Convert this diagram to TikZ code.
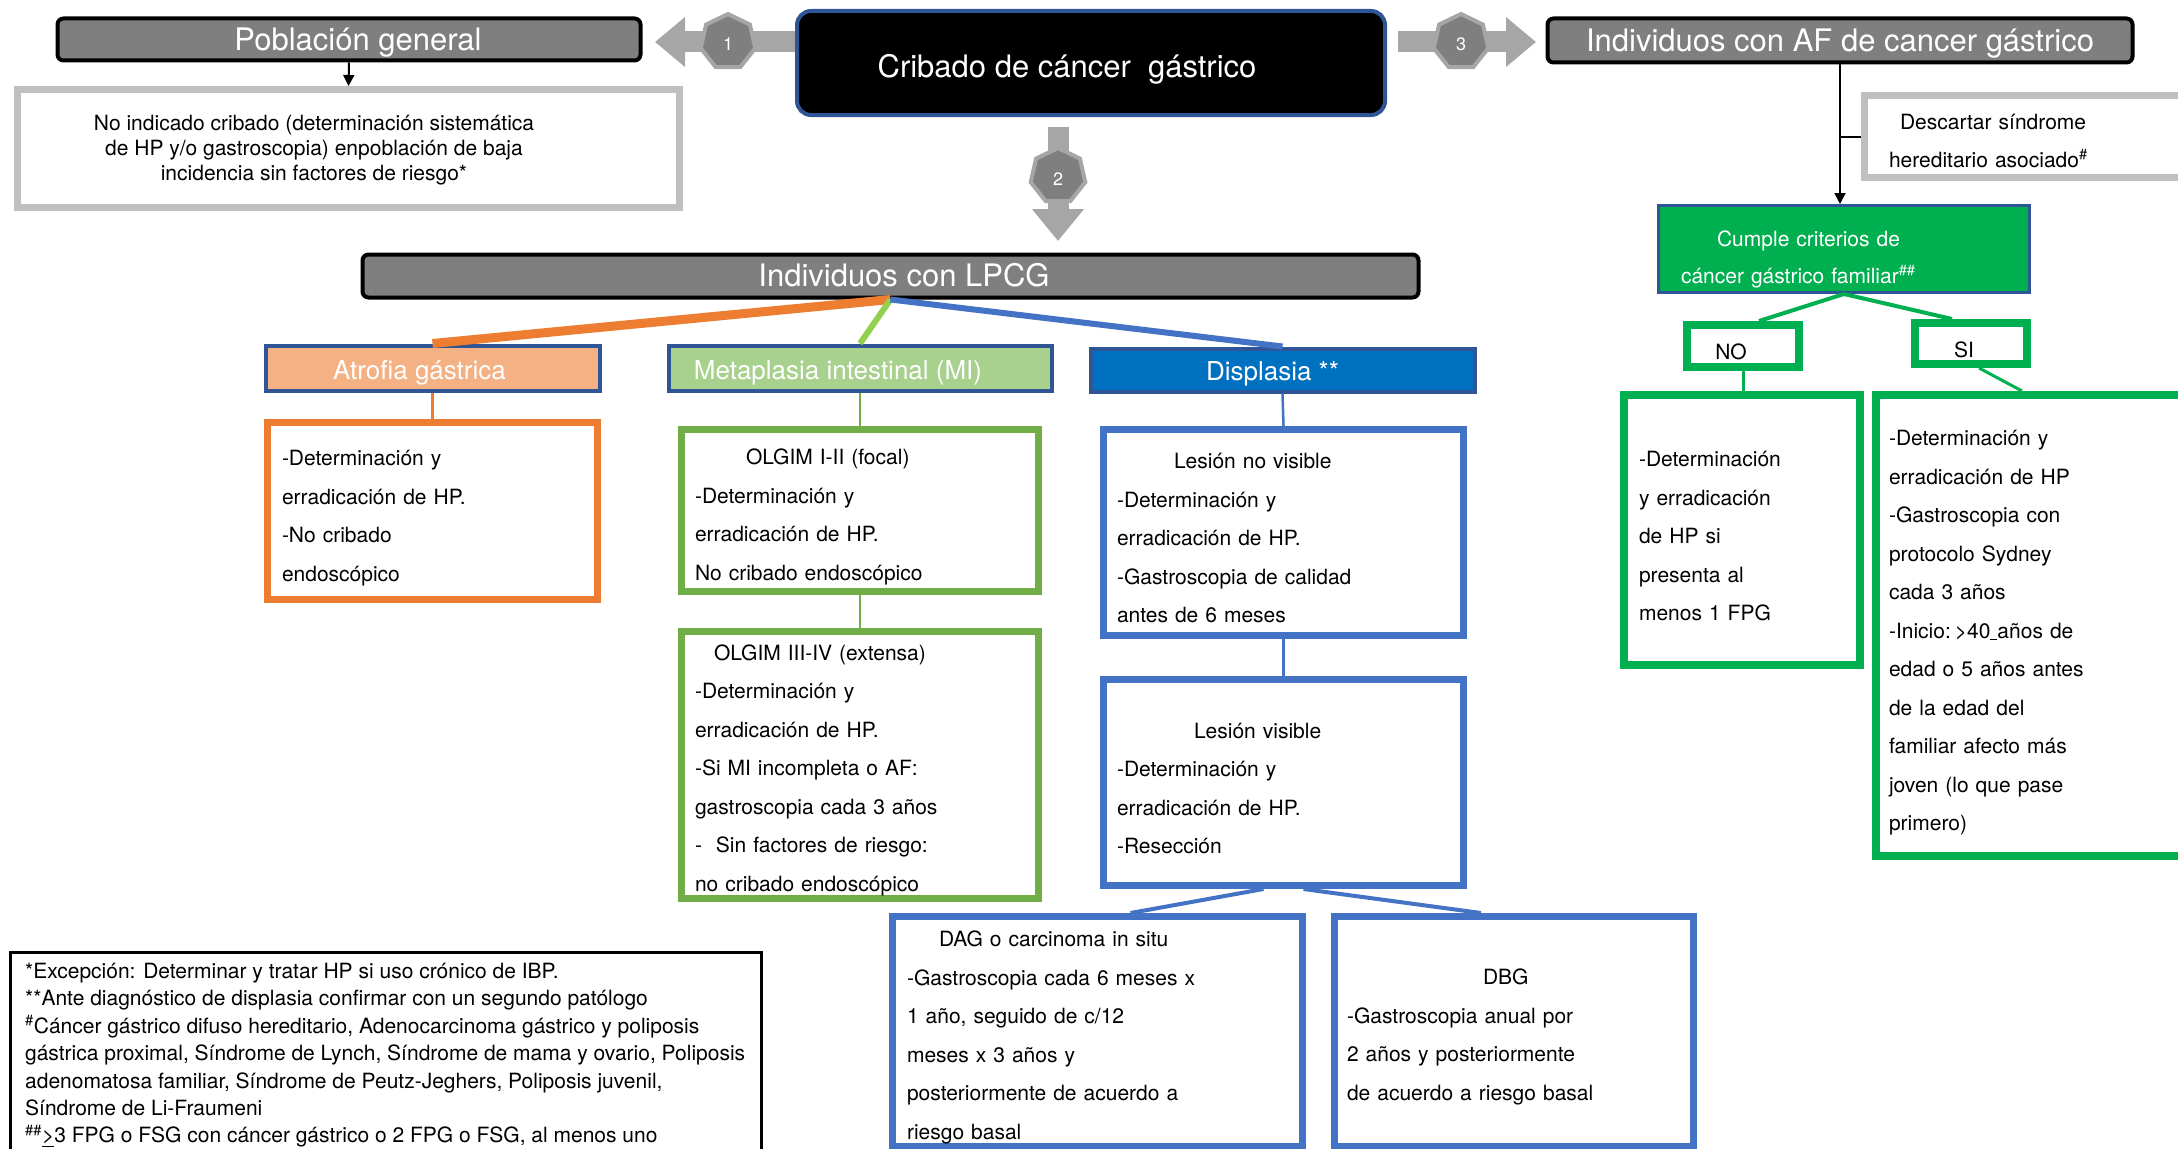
\documentclass[tikz,border=0pt]{standalone}
\usepackage{fontspec}
\setmainfont{TeX Gyre Heros}
\usetikzlibrary{shapes.geometric,arrows.meta}
\definecolor{dgray}{HTML}{7F7F7F}
\definecolor{agray}{HTML}{A6A6A6}
\definecolor{lgray}{HTML}{BFBFBF}
\definecolor{hblue}{HTML}{2F5597}
\definecolor{orng}{HTML}{ED7D31}
\definecolor{ofill}{HTML}{F4B183}
\definecolor{mig}{HTML}{70AD47}
\definecolor{mifill}{HTML}{A9D18E}
\definecolor{limeg}{HTML}{92D050}
\definecolor{dfill}{HTML}{0070C0}
\definecolor{bblue}{HTML}{4472C4}
\definecolor{cgreen}{HTML}{00B050}
\newcommand{\lowr}[2]{\raisebox{-#1}[0pt][0pt]{#2}}
\newcommand{\fst}[1]{\rule{0pt}{#1}}
\begin{document}
\begin{tikzpicture}[x=1pt,y=-1pt,
  fatarrow/.style={draw=agray, line width=21pt, -{Triangle[length=30pt,width=48pt]}},
  hept/.style={regular polygon, regular polygon sides=7, minimum size=56pt, fill=dgray, draw=agray, line width=4pt, text=white, font=\fontsize{18}{20}\selectfont, inner sep=0pt},
  titlebox/.style={rounded corners=6pt, fill=dgray, draw=black, line width=4pt, text=white, font=\fontsize{31}{36}\selectfont, inner sep=0pt},
  hdr/.style={draw=hblue, line width=4pt, text=white, font=\fontsize{26}{30}\selectfont, inner sep=0pt},
  body/.style={align=left, font=\fontsize{21}{38.5}\selectfont, inner ysep=0pt, line width=7pt},
  thinarrow/.style={line width=2pt, -{Triangle[length=11pt,width=11pt]}}
]
\useasboundingbox (0,0) rectangle (2178,1148);
\clip (0,0) rectangle (2178,1148);

% ---- top row
\node[titlebox, minimum width=583pt, minimum height=42pt] (pob) at (349,39.5) {\lowr{11pt}{\hspace*{18pt}Población general}};
\node[titlebox, fill=black, draw=hblue, rounded corners=14pt, minimum width=588pt, minimum height=104pt] (crib) at (1091,63) {\lowr{15pt}{Cribado de cáncer\ \ gástrico\hspace*{48pt}}};
\node[titlebox, minimum width=585pt, minimum height=44pt] (af) at (1840,40.5) {\lowr{11pt}{Individuos con AF de cancer gástrico}};

\node[draw=lgray, line width=7pt, minimum width=662pt, minimum height=118pt, inner sep=0pt] (pobbox) at (348.5,148.5) {};
\node[align=center, inner sep=0pt, font=\fontsize{21}{25}\selectfont] (pobnote) at (314,150) {No indicado cribado (determinación sistemática\\de HP y/o gastroscopia) enpoblación de baja\\incidencia sin factores de riesgo*};
\draw[thinarrow] (pob.south) -- (pobbox.north);

% ---- fat arrows with heptagons
\coordinate (c1) at (728,42);
\coordinate (c2) at (1058,176);
\coordinate (c3) at (1461,42);
\node[titlebox, minimum width=1056pt, minimum height=43pt] (lpcg) at (890.5,276) {\lowr{10.5pt}{\hspace*{27pt}Individuos con LPCG}};

\draw[fatarrow, shorten >=12.5pt] (crib.west |- c1) -- (pob.east |- c1);
\draw[fatarrow, shorten <=11pt, shorten >=9.5pt] (crib.east |- c3) -- (af.west |- c3);
\draw[fatarrow, -{Triangle[length=32pt,width=50pt]}, shorten <=10pt, shorten >=11.5pt] (crib.south -| c2) -- (lpcg.north -| c2);
\node[hept] (h1) at (c1) {\lowr{9pt}{1}};
\node[hept] (h2) at (c2) {\lowr{9pt}{2}};
\node[hept] (h3) at (c3) {\lowr{9pt}{3}};

% ---- LPCG branches
\node[hdr, fill=ofill, minimum width=334pt, minimum height=45pt] (ath) at (432.5,368) {\lowr{11pt}{Atrofia gástrica\hspace*{26pt}}};
\node[hdr, fill=mifill, minimum width=383pt, minimum height=45pt] (mih) at (860,368) {\lowr{11pt}{Metaplasia intestinal (MI)\hspace*{44pt}}};
\node[hdr, fill=dfill, minimum width=384pt, minimum height=43pt] (dh) at (1282.5,370) {\lowr{10.5pt}{Displasia **\hspace*{20pt}}};

\draw[line width=9pt, orng] (lpcg.south) -- (ath.north);
\draw[line width=6pt, limeg] (lpcg.south) -- (mih.north);
\draw[line width=6pt, bblue] (lpcg.south) -- (dh.north);

\node[body, draw=orng, text width=301pt, inner xsep=14.5pt, minimum height=177pt] (atb) at (432.5,511)
 {\fst{30pt}-Determinación y\\erradicación de HP.\\-No cribado\\endoscópico};
\node[body, draw=mig, text width=330pt, inner xsep=13.5pt, minimum height=162pt] (mi1) at (860,510.5)
 {\fst{29pt}\hspace*{51pt}OLGIM I-II (focal)\\-Determinación y\\erradicación de HP.\\No cribado endoscópico};
\node[body, draw=mig, text width=330pt, inner xsep=13.5pt, minimum height=267pt] (mi2) at (860,765)
 {\fst{26pt}\hspace*{19pt}OLGIM III-IV (extensa)\\-Determinación y\\erradicación de HP.\\-Si MI incompleta o AF:\\gastroscopia cada 3 años\\-\ \ Sin factores de riesgo:\\no cribado endoscópico};
\node[body, draw=bblue, text width=333pt, inner xsep=13.5pt, minimum height=206pt] (d1) at (1283.5,532.5)
 {\fst{27pt}\hspace*{57pt}Lesión no visible\\-Determinación y\\erradicación de HP.\\-Gastroscopia de calidad\\antes de 6 meses};
\node[body, draw=bblue, text width=333pt, inner xsep=13.5pt, minimum height=206pt] (d2) at (1283.5,782.5)
 {\fst{27pt}\hspace*{77pt}Lesión visible\\-Determinación y\\erradicación de HP.\\-Resección};
\node[body, draw=bblue, text width=381pt, inner xsep=14.5pt, minimum height=230pt] (dag) at (1097.5,1031.5)
 {\fst{28pt}\hspace*{32pt}DAG o carcinoma in situ\\-Gastroscopia cada 6 meses x\\1 año, seguido de c/12\\meses x 3 años y\\posteriormente de acuerdo a\\riesgo basal};
\node[body, draw=bblue, text width=334pt, inner xsep=12.5pt, minimum height=230pt] (dbg) at (1514,1031.5)
 {\fst{27pt}\hspace*{136pt}DBG\\-Gastroscopia anual por\\2 años y posteriormente\\de acuerdo a riesgo basal};

\draw[line width=2.5pt, orng] (ath.south) -- (atb.north);
\draw[line width=2.5pt, mig] (mih.south) -- (mi1.north);
\draw[line width=2.5pt, mig] (mi1.south) -- (mi2.north);
\draw[line width=2.5pt, bblue] (dh.south) -- (d1.north);
\draw[line width=2.5pt, bblue] (d1.south) -- (d2.north);
\draw[line width=4pt, bblue] ([xshift=-20pt]d2.south) -- ([xshift=33pt]dag.north);
\draw[line width=4pt, bblue] ([xshift=20pt]d2.south) -- ([xshift=-33pt]dbg.north);

% ---- right branch
\node[draw=lgray, line width=7pt, align=left, text width=283pt, inner xsep=24.5pt, inner ysep=0pt, minimum height=82pt, font=\fontsize{21}{37.5}\selectfont] (desc) at (2030.5,136.5)
 {\fst{24pt}\hspace*{11pt}Descartar síndrome\\hereditario asociado\textsuperscript{\#}};
\node[fill=cgreen, draw=hblue, line width=3pt, text=white, align=left, text width=326pt, inner xsep=22.5pt, inner ysep=0pt, minimum height=87pt, font=\fontsize{21}{37}\selectfont] (cumple) at (1844,249)
 {\fst{36pt}\hspace*{36pt}Cumple criterios de\\cáncer gástrico familiar\textsuperscript{\#\#}};
\draw[thinarrow] (af.south) -- (af.south |- cumple.north);
\draw[line width=2pt] (desc.west -| af.south) -- (desc.west);

\node[draw=cgreen, line width=8pt, minimum width=112pt, minimum height=42pt, inner sep=0pt, font=\fontsize{21}{24}\selectfont] (noh) at (1743,346) {\lowr{13pt}{NO\hspace*{24pt}}};
\node[draw=cgreen, line width=8pt, minimum width=112pt, minimum height=41pt, inner sep=0pt, font=\fontsize{21}{24}\selectfont] (sih) at (1971,343.5) {\lowr{14pt}{SI\hspace*{14pt}}};
\draw[line width=4pt, cgreen] (cumple.south) -- ([xshift=16pt]noh.north);
\draw[line width=4pt, cgreen] (cumple.south) -- ([xshift=-19pt]sih.north);

\node[body, draw=cgreen, line width=8pt, text width=206pt, inner xsep=15pt, minimum height=270pt] (nob) at (1742,530)
 {\fst{28pt}-Determinación\\y erradicación\\de HP si\\presenta al\\menos 1 FPG};
\node[body, draw=cgreen, line width=8pt, text width=294pt, inner xsep=13pt, minimum height=461pt] (sib) at (2036,625.5)
 {\fst{30pt}-Determinación y\\erradicación de HP\\-Gastroscopia con\\protocolo Sydney\\cada 3 años\\-Inicio:\kern-3pt\ >40\underline{\ }años de\\edad o 5 años antes\\de la edad del\\familiar afecto más\\joven (lo que pase\\primero)};
\draw[line width=3pt, cgreen] (noh.south) -- (noh.south |- nob.north);
\draw[line width=3pt, cgreen] ([xshift=8pt]sih.south) -- ([xshift=-14pt]sib.north);

% ---- footnotes
\node[draw=black, line width=3pt, minimum width=751pt, minimum height=250pt, anchor=north west, inner sep=0pt] (fnbox) at (8.5,950.5) {};
\node[anchor=north west, align=left, inner sep=0pt, font=\fontsize{21}{27.4}\selectfont] (fntext) at (25,963)
 {*Excepción: Determinar y tratar HP si uso crónico de IBP.\\
  **Ante diagnóstico de displasia confirmar con un segundo patólogo\\
  \textsuperscript{\#}Cáncer gástrico difuso hereditario, Adenocarcinoma gástrico y poliposis\\
  gástrica proximal, Síndrome de Lynch, Síndrome de mama y ovario, Poliposis\\
  adenomatosa familiar, Síndrome de Peutz-Jeghers, Poliposis juvenil,\\
  Síndrome de Li-Fraumeni\\
  \textsuperscript{\#\#}\underline{>}3 FPG o FSG con cáncer gástrico o 2 FPG o FSG, al menos uno};
\end{tikzpicture}
\end{document}
